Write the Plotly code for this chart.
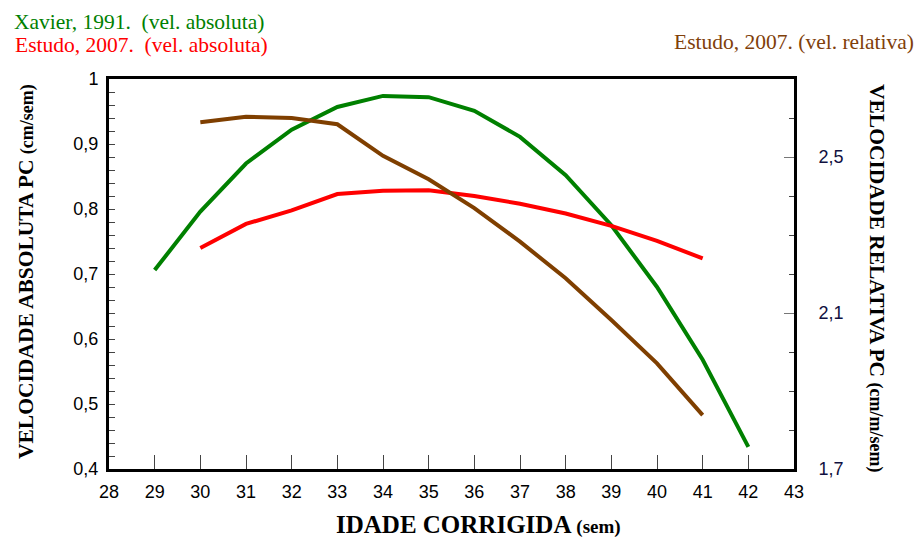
import plotly.graph_objects as go

weeks_xavier = [29, 30, 31, 32, 33, 34, 35, 36, 37, 38, 39, 40, 41, 42]
xavier_abs = [0.706, 0.796, 0.870, 0.922, 0.957, 0.974, 0.972, 0.951, 0.911, 0.852, 0.775, 0.680, 0.568, 0.434]

weeks_estudo = [30, 31, 32, 33, 34, 35, 36, 37, 38, 39, 40, 41]
estudo_abs = [0.740, 0.777, 0.798, 0.823, 0.828, 0.829, 0.820, 0.808, 0.793, 0.774, 0.751, 0.724]
estudo_rel = [2.589, 2.603, 2.600, 2.584, 2.503, 2.443, 2.369, 2.283, 2.189, 2.082, 1.971, 1.838]

x_ticks = list(range(28, 44))
left_ticks = [0.4, 0.5, 0.6, 0.7, 0.8, 0.9, 1.0]
right_ticks = [1.7, 2.1, 2.5]

GREEN = "#008000"
RED = "#FF0000"
BROWN = "#7F3F00"
SERIF = "Liberation Serif, Times New Roman, serif"
SANS = "Liberation Sans, Arial, sans-serif"

fig = go.Figure()
fig.add_trace(go.Scatter(x=weeks_xavier, y=xavier_abs, mode="lines",
                         line=dict(color=GREEN, width=4), yaxis="y"))
fig.add_trace(go.Scatter(x=weeks_estudo, y=estudo_abs, mode="lines",
                         line=dict(color=RED, width=4), yaxis="y"))
fig.add_trace(go.Scatter(x=weeks_estudo, y=estudo_rel, mode="lines",
                         line=dict(color=BROWN, width=4), yaxis="y2"))

L, R, T, B = 109, 125, 79, 71
W, H = 919, 540
pw, ph = W - L - R, H - T - B

def px(x):
    return (x - L) / pw

def py(y):
    return (H - B - y) / ph

fig.update_layout(
    width=W, height=H,
    margin=dict(l=L, r=R, t=T, b=B, pad=0),
    paper_bgcolor="white", plot_bgcolor="white",
    showlegend=False,
    separators=",.",
    xaxis=dict(range=[28, 43], tickvals=x_ticks, ticks="inside", ticklen=14,
               tickwidth=1, tickcolor="#444", showgrid=False, zeroline=False,
               showline=True, linecolor="black", linewidth=3, mirror=True,
               ticklabelstandoff=4,
               tickfont=dict(family=SANS, size=18, color="black")),
    yaxis=dict(range=[0.4, 1.0], tickvals=left_ticks, ticks="inside", ticklen=6,
               tickwidth=1, tickcolor="#444", showgrid=False, zeroline=False,
               showline=True, linecolor="black", linewidth=3,
               ticklabelstandoff=4,
               tickfont=dict(family=SANS, size=18, color="black"),
               minor=dict(dtick=0.02, tick0=0.4, ticks="inside", ticklen=6,
                          tickcolor="#444", tickwidth=1, showgrid=False)),
    yaxis2=dict(range=[1.7, 2.7], tickvals=right_ticks, overlaying="y", side="right",
                ticks="inside", ticklen=10, tickwidth=1, tickcolor="#777",
                showgrid=False, zeroline=False, showline=True, linecolor="black",
                linewidth=3, ticklabelstandoff=18,
                tickfont=dict(family=SANS, size=18, color="#101040"),
                minor=dict(dtick=0.1, tick0=1.7, ticks="inside", ticklen=5,
                           tickcolor="#444", tickwidth=1, showgrid=False)),
)

annotations = [
    dict(text="Xavier, 1991.  (vel. absoluta)", x=px(12), y=py(22), xanchor="left",
         yanchor="middle", font=dict(family=SERIF, size=21.5, color=GREEN)),
    dict(text="Estudo, 2007.  (vel. absoluta)", x=px(13), y=py(45), xanchor="left",
         yanchor="middle", font=dict(family=SERIF, size=21.5, color=RED)),
    dict(text="Estudo, 2007. (vel. relativa)", x=px(916), y=py(42), xanchor="right",
         yanchor="middle", font=dict(family=SERIF, size=21.5, color="#80400A")),
    dict(text="<b>VELOCIDADE ABSOLUTA PC <span style='font-size:18px'>(cm/sem)</span></b>",
         x=px(26), y=py(272), xanchor="center", yanchor="middle", textangle=-90,
         font=dict(family=SERIF, size=21.5, color="black")),
    dict(text="<b>VELOCIDADE RELATIVA PC <span style='font-size:18px'>(cm/m/sem)</span></b>",
         x=px(877), y=py(278), xanchor="center", yanchor="middle", textangle=90,
         font=dict(family=SERIF, size=21.5, color="black")),
    dict(text="<b>IDADE CORRIGIDA <span style='font-size:19px'>(sem)</span></b>",
         x=px(478), y=py(524), xanchor="center", yanchor="middle",
         font=dict(family=SERIF, size=25, color="black")),
]
for a in annotations:
    a.update(xref="paper", yref="paper", showarrow=False)
fig.update_layout(annotations=annotations)

fig.write_html("out.html")
